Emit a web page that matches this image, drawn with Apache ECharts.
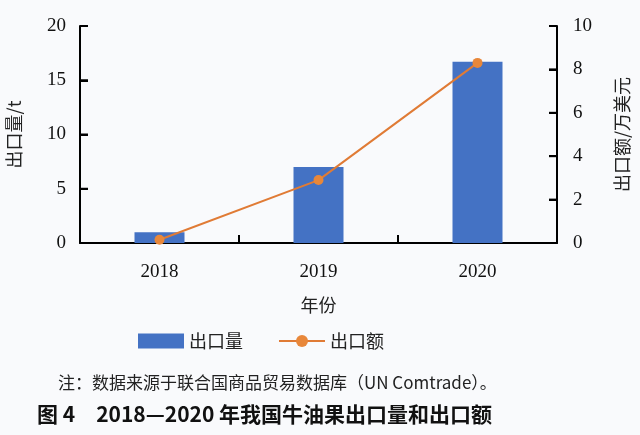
<!DOCTYPE html>
<html>
<head>
<meta charset="utf-8">
<script src="https://cdn.jsdelivr.net/npm/echarts@6/dist/echarts.min.js"></script>
<style>
html,body{margin:0;padding:0;background:#f9fafc;}
#c{width:640px;height:435px;}
</style>
</head>
<body>
<div id="c"></div>
<script>
const categories = ['2018', '2019', '2020'];
const exportVolume = [1.0, 7.0, 16.7];   // 出口量 / t
const exportValue = [0.15, 2.9, 8.3];    // 出口额 / 万美元
const leftTicks = [0, 5, 10, 15, 20];
const rightTicks = [0, 2, 4, 6, 8, 10];

const serif = '"Liberation Serif", "Noto Sans CJK SC", serif';
const cjk = '"Noto Sans CJK SC", sans-serif';
const TICK = 8;
const tickStyle = { stroke: '#000', lineWidth: 2 };

const chart = echarts.init(document.getElementById('c'));
chart.setOption({
  backgroundColor: '#f9fafc',
  animation: false,
  grid: { left: 80, right: 83, top: 26, bottom: 192, outerBoundsMode: 'none', containLabel: false },
  legend: {
    left: 133, top: 327,
    itemWidth: 46, itemHeight: 15, itemGap: 35,
    textStyle: { fontFamily: cjk, fontSize: 18, color: '#222' },
    data: [
      { name: '出口量', icon: 'rect' },
      { name: '出口额' }
    ]
  },
  xAxis: {
    type: 'category',
    data: categories,
    name: '年份',
    nameLocation: 'middle',
    nameGap: 53,
    nameTextStyle: { fontFamily: cjk, fontSize: 18, color: '#222' },
    axisLine: { show: true, lineStyle: { color: '#000', width: 2 } },
    axisTick: { show: true, inside: true, length: TICK, lineStyle: { color: '#000', width: 2 } },
    axisLabel: { fontFamily: serif, fontSize: 19, color: '#111', margin: 20 }
  },
  yAxis: [
    {
      type: 'value', min: 0, max: 20, interval: 5,
      name: '出口量/t', nameLocation: 'middle', nameGap: 57, nameRotate: 90,
      nameTextStyle: { fontFamily: cjk, fontSize: 18, color: '#222' },
      axisLine: { show: true, lineStyle: { color: '#000', width: 2 } },
      axisTick: { show: true, inside: true, length: TICK, lineStyle: { color: '#000', width: 2 } },
      splitLine: { show: false },
      axisLabel: { fontFamily: serif, fontSize: 19, color: '#111', margin: 14 }
    },
    {
      type: 'value', min: 0, max: 10, interval: 2, position: 'right',
      name: '出口额/万美元', nameLocation: 'middle', nameGap: 56, nameRotate: 90,
      nameTextStyle: { fontFamily: cjk, fontSize: 18, color: '#222' },
      axisLine: { show: true, lineStyle: { color: '#000', width: 2 } },
      axisTick: { show: true, inside: true, length: TICK, lineStyle: { color: '#000', width: 2 } },
      splitLine: { show: false },
      axisLabel: { fontFamily: serif, fontSize: 19, color: '#111', margin: 16 }
    }
  ],
  series: [
    {
      name: '出口量', type: 'bar', yAxisIndex: 0,
      data: exportVolume, barWidth: 50,
      itemStyle: { color: '#4472c4' }
    },
    {
      name: '出口额', type: 'line', yAxisIndex: 1,
      data: exportValue,
      symbol: 'circle', symbolSize: 10,
      lineStyle: { color: '#e07b35', width: 2 },
      itemStyle: { color: '#e8873a' }
    },
    {
      // left axis ticks (inside)
      name: 'ltick', type: 'custom', yAxisIndex: 0, clip: false, silent: true, z: 5,
      data: leftTicks.map(v => [0, v]),
      renderItem: (params, api) => {
        const band = api.size([1, 0])[0];
        const p = api.coord([0, api.value(1)]);
        const x0 = p[0] - band / 2;
        return { type: 'line', shape: { x1: x0, y1: p[1], x2: x0 + TICK, y2: p[1] }, style: tickStyle };
      }
    },
    {
      // right axis ticks (inside)
      name: 'rtick', type: 'custom', yAxisIndex: 1, clip: false, silent: true, z: 5,
      data: rightTicks.map(v => [categories.length - 1, v]),
      renderItem: (params, api) => {
        const band = api.size([1, 0])[0];
        const p = api.coord([categories.length - 1, api.value(1)]);
        const x1 = p[0] + band / 2;
        return { type: 'line', shape: { x1: x1 - TICK, y1: p[1], x2: x1, y2: p[1] }, style: tickStyle };
      }
    },
    {
      // category boundary ticks (inside)
      name: 'xtick', type: 'custom', yAxisIndex: 0, clip: false, silent: true, z: 5,
      data: categories.slice(0, -1).map((c, i) => [i, 0]),
      renderItem: (params, api) => {
        const band = api.size([1, 0])[0];
        const p = api.coord([api.value(0), 0]);
        const x = p[0] + band / 2;
        return { type: 'line', shape: { x1: x, y1: p[1], x2: x, y2: p[1] - TICK }, style: tickStyle };
      }
    }
  ],
  graphic: [
    {
      type: 'text', left: 58, top: 374,
      style: { text: '注：数据来源于联合国商品贸易数据库（UN Comtrade）。',
        font: '17px "Noto Sans CJK SC", sans-serif', fill: '#222' }
    },
    {
      type: 'text', left: 37, top: 404,
      style: { text: '图 4　2018—2020 年我国牛油果出口量和出口额',
        font: 'bold 21px "Noto Sans CJK SC", sans-serif', fill: '#111' }
    }
  ]
});
</script>
</body>
</html>
